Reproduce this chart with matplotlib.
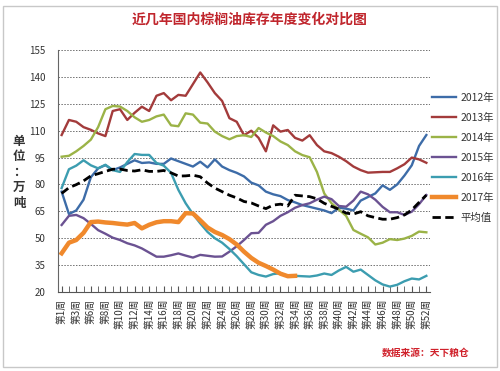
import matplotlib
matplotlib.use('Agg')
import matplotlib.pyplot as plt
from matplotlib.patches import Rectangle

plt.rcParams['font.family'] = ['Noto Sans CJK SC', 'DejaVu Sans']

# week categories (week 5 is missing in the source table)
weeks = [1, 2, 3, 4] + list(range(6, 53))
week_labels = [f'第{w}周' for w in weeks]

y2012 = [76, 63.5, 65.5, 71.5, 84, 89, 90.8, 88, 89.5, 91.5, 93.5, 92, 92.3, 91.5, 91.5, 94.5, 93,
         91.5, 90, 92.7, 89.5, 94, 90, 88, 86.5, 84.5, 81, 79.5, 76, 74.5, 73.5, 71.3, 70, 68.5,
         67.5, 66.5, 65.5, 64, 67, 66.5, 65.5, 71, 73, 75, 79.5, 77, 80, 85, 90.7, 101.5, 107.6]
y2013 = [107.6, 116, 115, 112, 110.5, 108.5, 107, 121, 122, 116, 120, 123.4, 121, 129.5, 131, 127,
         130, 129.5, 136, 142.5, 137, 131, 126.6, 117, 115, 107.5, 110, 106, 98.5, 113, 109.5,
         110.4, 106, 104.5, 107.5, 102, 98.5, 97.5, 95.5, 93, 90, 88, 86.6, 86.8, 87, 87, 89,
         91.3, 95, 94, 92.1]
y2014 = [95.5, 96, 98.5, 101.5, 105, 112, 122, 123.8, 123.5, 121, 117.5, 115, 116, 118, 119, 113,
         112.5, 119.7, 119, 114.5, 114, 109.5, 107, 105.2, 107, 107.5, 106.5, 111.5, 109, 107,
         104, 102, 98.5, 96.4, 95.2, 87, 75, 69.5, 66, 62.5, 54.6, 52.5, 50.5, 46.5, 47.5, 49.5,
         49, 49.8, 51.3, 53.7, 53.3]
y2015 = [57.4, 62.5, 63, 61.2, 58, 54.5, 52.5, 50.3, 49, 47.2, 46, 44.3, 42, 39.7, 39.7, 40.5,
         41.5, 40.3, 39.2, 40.7, 40.2, 39.7, 39.8, 42.5, 45.5, 49, 52.8, 53, 57.5, 59.5, 62.5,
         64.5, 67, 68.5, 69.5, 71.5, 73.2, 71.8, 68, 67.6, 71, 76, 74.5, 71.5, 67.5, 64.5, 64.5,
         63, 64.8, 69, 74.1]
y2016 = [78, 88.5, 90.5, 93.5, 90.7, 89, 91, 88, 87, 92.5, 97, 96.5, 96.5, 92, 90.5, 86.5, 77,
         69.5, 63.5, 58.3, 53.5, 50, 47.5, 44, 40, 35.5, 31, 29.5, 28.6, 30, 30.5, 28.8, 29, 28.8,
         28.6, 29.2, 30.3, 29.5, 32, 34, 31.3, 32.5, 29.5, 26.5, 24.2, 23, 24, 26, 27.5, 27, 29]
y2017 = [41.6, 47.5, 49, 53, 59, 59.3, 58.8, 58.5, 58, 57.6, 58.5, 55.5, 57.5, 58.9, 59.5, 59.5,
         59, 64, 63.8, 60, 56, 53.5, 51.8, 49.5, 46.5, 42.5, 39, 36.3, 34.5, 32.5, 30.2, 28.8, 29]
y_avg = [75, 78.2, 79.9, 82, 84.8, 86, 87.3, 88.5, 88.6, 87.8, 87.5, 88.2, 87.3, 87.3, 87.8, 86.5,
         84.7, 84.8, 85.2, 84.3, 80.8, 78, 76, 74, 72.5, 70.5, 69.7, 68, 66.5, 68.5, 69, 68, 74,
         73.6, 73.2, 72, 69.5, 67.8, 66.2, 64, 63.5, 64.8, 62.5, 61.5, 60.6, 60.6, 61.5, 63, 65.8,
         70, 74.1]

fig = plt.figure(figsize=(5, 3.71), dpi=100)
ax = fig.add_axes([0.116, 0.213, 0.744, 0.652])

x = list(range(len(weeks)))
ax.plot(x, y2012, color='#3D6CA8', lw=1.7, label='2012年')
ax.plot(x, y2013, color='#A33B3B', lw=1.7, label='2013年')
ax.plot(x, y2014, color='#9BB347', lw=1.7, label='2014年')
ax.plot(x, y2015, color='#6B5292', lw=1.7, label='2015年')
ax.plot(x, y2016, color='#3C9DB0', lw=1.7, label='2016年')
ax.plot(x[:len(y2017)], y2017, color='#F0892C', lw=3.2, label='2017年')
ax.plot(x, y_avg, color='black', lw=2, ls=(0, (3, 1.6)), label='平均值')

ax.set_xlim(-0.5, len(weeks) - 0.5)
ax.set_ylim(20, 155)
ax.set_yticks(range(20, 156, 15))
ax.yaxis.grid(True, ls=(0, (1.5, 1.5)), color='#707070', lw=0.7)
ax.set_axisbelow(True)
ax.tick_params(axis='y', length=0, pad=9, labelsize=7, labelcolor='#333333')

ax.set_xticks(x[::2])
ax.set_xticklabels(week_labels[::2], rotation=90, fontsize=7, color='#333333')
ax.set_xticks(x[1::2], minor=True)
ax.tick_params(axis='x', which='both', direction='in', length=4, color='#555555', pad=5)

for s in ['top', 'right']:
    ax.spines[s].set_visible(False)
ax.spines['left'].set_color('#666666')
ax.spines['bottom'].set_color('#555555')

fig.legend(*ax.get_legend_handles_labels(), loc='upper left', bbox_to_anchor=(0.864, 0.75),
           frameon=False, fontsize=7.5, handlelength=2.3, labelspacing=0.95,
           handletextpad=0.4, borderpad=0, borderaxespad=0, labelcolor='#333333')

fig.text(0.5, 0.946, '近几年国内棕榈油库存年度变化对比图', ha='center', va='center',
         fontsize=10, color='#C0262D', fontweight='bold')
fig.text(0.038, 0.536, '单\n位\n：\n万\n吨', ha='center', va='center', fontsize=9,
         fontweight='bold', color='#333333', linespacing=1.25)
fig.text(0.852, 0.049, '数据来源：天下粮仓', ha='center', va='center', fontsize=7,
         fontweight='bold', color='#D0212B')
fig.patches.append(Rectangle((0.006, 0.01), 0.988, 0.975, transform=fig.transFigure,
                             fill=False, edgecolor='#C8C8C8', lw=1))

fig.savefig('out.png', dpi=100)
